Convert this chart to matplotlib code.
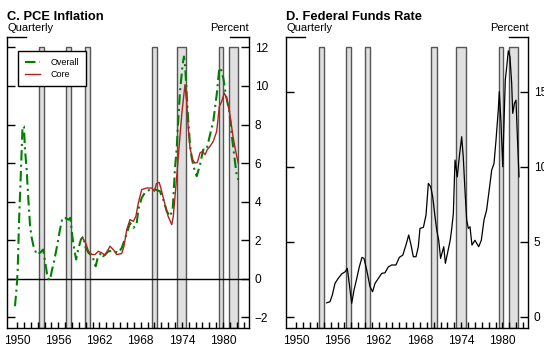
import matplotlib
matplotlib.use("Agg")
import matplotlib.pyplot as plt
from matplotlib.ticker import MultipleLocator, FixedLocator

plt.rcParams['font.family'] = ['Liberation Sans', 'DejaVu Sans']

# recession bands (start, end), in years
recessions = [(1953.25, 1953.97), (1957.18, 1957.90), (1959.94, 1960.67),
              (1969.61, 1970.42), (1973.29, 1974.64), (1979.45, 1980.03),
              (1980.90, 1982.21)]

# C. PCE inflation, overall
overall_x = [1949.70, 1949.96, 1950.10, 1950.30, 1950.54, 1950.80, 1951.00, 1951.16,
             1951.40, 1951.65, 1951.90, 1952.14, 1952.40, 1952.87, 1953.35, 1953.80,
             1954.20, 1954.45, 1954.80, 1955.05, 1955.40, 1955.87, 1956.16, 1956.60,
             1957.00, 1957.47, 1957.76, 1958.05, 1958.35, 1958.60, 1958.90, 1959.30,
             1959.65, 1959.90, 1960.40, 1960.97, 1961.45, 1961.80, 1962.30, 1962.56,
             1963.30, 1964.00, 1964.75, 1965.24, 1966.00, 1966.45, 1966.93, 1967.40,
             1967.66, 1968.15, 1968.60, 1969.36, 1970.10, 1970.80, 1971.30, 1971.80,
             1972.27, 1972.66, 1973.00, 1973.25, 1973.48, 1973.73, 1974.10, 1974.30,
             1974.50, 1974.70, 1974.93, 1975.18, 1975.43, 1975.76, 1976.16, 1976.64,
             1977.10, 1977.60, 1978.10, 1978.57, 1979.07, 1979.45, 1979.65, 1980.03,
             1980.40, 1980.90, 1981.25, 1981.60, 1981.97, 1982.20]
overall_y = [-1.42, -0.38, 0.48, 3.07, 5.32, 7.90, 7.90, 6.70,
             5.66, 4.10, 2.73, 2.12, 1.69, 1.26, 1.35, 1.52,
             0.65, 0.05, -0.07, 0.39, 0.91, 1.78, 2.38, 3.16,
             3.16, 3.07, 3.16, 2.20, 1.52, 1.00, 1.52, 2.04,
             2.20, 1.69, 1.35, 1.17, 0.65, 1.17, 1.35, 1.17,
             1.43, 1.45, 1.35, 1.60, 2.38, 2.90, 2.64, 2.81,
             3.59, 4.20, 4.46, 4.63, 4.63, 4.54, 4.10, 3.50,
             3.24, 3.59, 5.75, 6.79, 8.34, 9.72, 11.10, 11.53,
             10.93, 9.55, 8.17, 6.96, 6.27, 5.75, 5.32, 5.92,
             6.70, 6.70, 7.48, 8.17, 9.55, 10.93, 10.93, 10.41,
             9.55, 8.68, 7.48, 6.44, 5.40, 5.14]

# C. PCE inflation, core
core_x = [1959.50, 1959.90, 1960.40, 1960.90, 1961.35, 1961.85, 1962.30, 1962.80,
          1963.54, 1964.00, 1964.50, 1965.24, 1965.57, 1965.97, 1966.45, 1966.93,
          1967.30, 1967.66, 1968.15, 1968.90, 1969.60, 1970.00, 1970.30, 1970.70,
          1971.06, 1971.54, 1972.00, 1972.52, 1972.75, 1973.25, 1973.60, 1974.00,
          1974.45, 1974.70, 1974.93, 1975.18, 1975.57, 1975.90, 1976.25, 1976.64,
          1977.00, 1977.37, 1977.70, 1978.10, 1978.57, 1979.07, 1979.45, 1979.80,
          1980.17, 1980.50, 1981.00, 1981.40, 1981.73, 1982.20]
core_y = [2.12, 1.95, 1.43, 1.26, 1.26, 1.43, 1.35, 1.22,
          1.69, 1.52, 1.26, 1.31, 1.69, 2.55, 3.07, 2.98,
          3.24, 3.94, 4.63, 4.71, 4.71, 4.54, 4.94, 5.00,
          4.54, 3.85, 3.24, 2.81, 3.24, 5.32, 6.87, 8.60,
          10.07, 9.20, 7.82, 6.79, 6.18, 6.00, 6.04, 6.53,
          6.61, 6.44, 6.70, 6.87, 7.13, 7.65, 8.94, 9.20,
          9.64, 9.38, 8.51, 7.48, 6.79, 6.00]

# D. Federal funds rate
ff_x = [1954.42, 1954.90, 1955.24, 1955.63, 1956.10, 1956.60, 1957.10, 1957.42,
        1957.70, 1958.06, 1958.40, 1958.80, 1959.17, 1959.56, 1959.85, 1960.25,
        1960.73, 1961.10, 1961.46, 1961.94, 1962.43, 1962.90, 1963.40, 1963.89,
        1964.50, 1965.00, 1965.50, 1965.96, 1966.36, 1966.70, 1967.03, 1967.42,
        1967.76, 1968.00, 1968.50, 1968.88, 1969.22, 1969.56, 1969.85, 1970.19,
        1970.44, 1970.73, 1971.00, 1971.46, 1971.70, 1972.10, 1972.40, 1972.60,
        1972.86, 1973.10, 1973.43, 1973.73, 1974.07, 1974.30, 1974.55, 1974.80,
        1975.04, 1975.28, 1975.57, 1976.00, 1976.55, 1976.93, 1977.32, 1977.70,
        1978.20, 1978.44, 1978.78, 1979.07, 1979.40, 1979.55, 1979.80, 1980.05,
        1980.23, 1980.42, 1980.63, 1980.86, 1981.10, 1981.35, 1981.50, 1981.75,
        1981.98, 1982.20, 1982.42]
ff_y = [0.93, 1.00, 1.45, 2.23, 2.56, 2.85, 3.00, 3.23,
        2.23, 0.89, 1.78, 2.56, 3.33, 3.96, 3.89, 3.11,
        2.00, 1.67, 2.23, 2.56, 2.89, 2.93, 3.33, 3.45,
        3.45, 3.96, 4.11, 4.78, 5.45, 4.78, 4.00, 4.00,
        4.67, 5.89, 5.96, 6.78, 8.89, 8.67, 8.00, 6.67,
        5.78, 5.10, 3.89, 4.67, 3.56, 4.44, 5.10, 5.78,
        6.89, 10.45, 9.33, 10.67, 12.00, 10.67, 8.45, 6.45,
        5.89, 6.00, 4.78, 5.10, 4.67, 5.10, 6.45, 7.11,
        8.89, 9.78, 10.22, 11.78, 13.78, 15.00, 12.89, 10.00,
        12.89, 15.78, 16.67, 17.73, 17.33, 15.56, 13.56, 14.22,
        14.44, 11.78, 9.33]

W, H = 544, 353
fig = plt.figure(figsize=(W / 100, H / 100), dpi=100)


def panel(left_px, title, ylim, yticks):
    ax = fig.add_axes([left_px / W, (H - 328) / H, 242 / W, 291 / H])
    ax.set_xlim(1948.54, 1983.77)
    ax.set_ylim(*ylim)
    for a, b in recessions:
        ax.axvspan(a, b, ymin=0, ymax=0.965, facecolor='#e0e0e0',
                   edgecolor='#555555', lw=1, zorder=1)
    ax.spines['top'].set_visible(False)
    for s in ['left', 'right', 'bottom']:
        ax.spines[s].set_linewidth(1)
    # broken top frame
    ax.plot([0, 19 / 242], [1, 1], color='black', lw=1, transform=ax.transAxes, clip_on=False)
    ax.plot([223 / 242, 1], [1, 1], color='black', lw=1, transform=ax.transAxes, clip_on=False)
    ax.yaxis.set_major_locator(FixedLocator(yticks))
    ax.yaxis.tick_right()
    ax.tick_params(axis='y', which='both', direction='in', left=True, right=True,
                   length=5.5, width=1, labelsize=8.6, pad=4)
    ax.xaxis.set_major_locator(MultipleLocator(6))
    ax.xaxis.set_minor_locator(MultipleLocator(1))
    ax.set_xticks(range(1950, 1984, 6))
    ax.set_xticks(range(1950, 1984), minor=True)
    ax.tick_params(axis='x', which='both', direction='in', length=4.3, width=1,
                   labelsize=8.6, pad=5)
    fig.text(left_px / W, 1 - 20 / H, title, fontsize=9.3, fontweight='bold', va='baseline')
    fig.text(left_px / W, 1 - 31 / H, 'Quarterly', fontsize=8, va='baseline')
    fig.text((left_px + 242) / W, 1 - 31 / H, 'Percent', fontsize=8, va='baseline', ha='right')
    return ax


ax1 = panel(7, 'C. PCE Inflation', (-2.55, 12.54), [-2, 0, 2, 4, 6, 8, 10, 12])
ax1.axhline(0, color='black', lw=1, zorder=2)
ax1.plot(overall_x, overall_y, color='#008000', lw=1.5, ls=(0, (5, 2, 1, 2)),
         label='Overall', zorder=3)
ax1.plot(core_x, core_y, color='#b22222', lw=1, label='Core', zorder=4)
ax1.set_yticklabels(['\u22122', '0', '2', '4', '6', '8', '10', '12'])
leg = ax1.legend(loc='upper left', bbox_to_anchor=(0.045, 0.952), borderaxespad=0,
                 fontsize=6.5, handlelength=1.6, handletextpad=1.2, labelspacing=0.3,
                 borderpad=0.8, fancybox=False, framealpha=1)
leg.get_frame().set_edgecolor('black')
leg.get_frame().set_linewidth(1)

ax2 = panel(286.3, 'D. Federal Funds Rate', (-0.75, 18.65), [0, 5, 10, 15])
ax2.plot(ff_x, ff_y, color='black', lw=0.9, zorder=3)

fig.savefig('out.png', dpi=100)
